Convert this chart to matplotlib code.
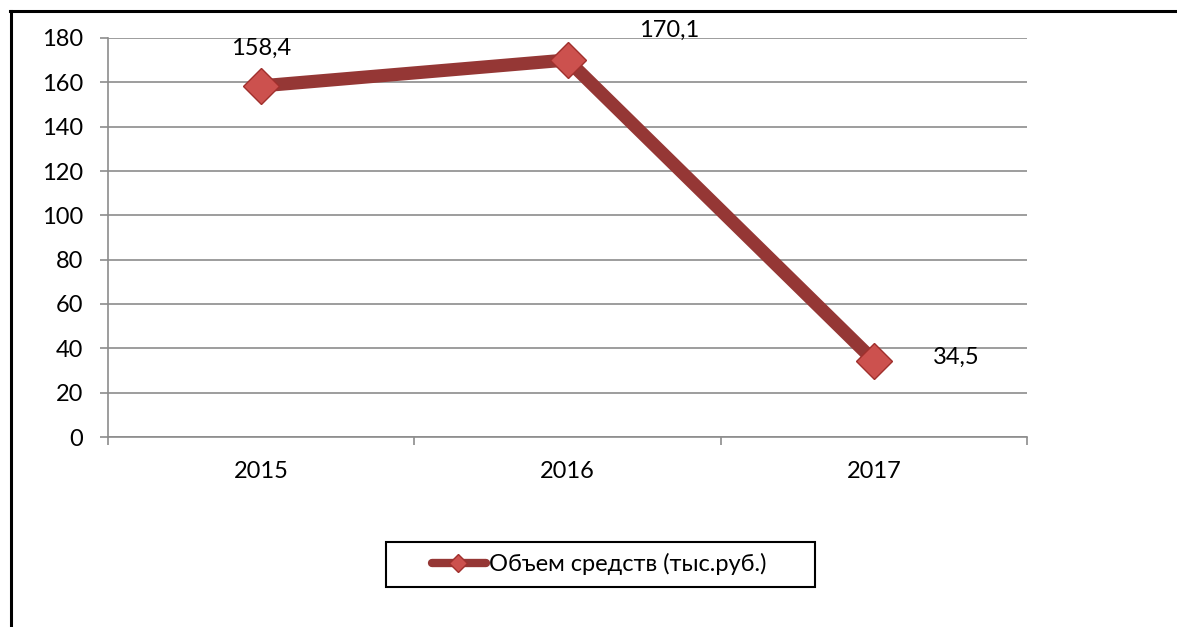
import matplotlib
matplotlib.use("Agg")
import matplotlib.pyplot as plt
from matplotlib.lines import Line2D
from matplotlib.patches import Rectangle

plt.rcParams["font.family"] = ["Lato", "DejaVu Sans"]

# --- data --------------------------------------------------------------------
years = ["2015", "2016", "2017"]
volume = [158.4, 170.1, 34.5]
value_labels = ["158,4", "170,1", "34,5"]
series_name = "Объем средств (тыс.руб.)"

# label offsets in pixels from the point
label_offsets = [(0, 38), (102, 30), (82, 3)]

LINE_C = "#953735"
MARK_C = "#CC514E"
MARK_EDGE = "#A0302D"
GRID_C = "#8C8C8C"
FS = 17

W, H = 1177, 627
fig = plt.figure(figsize=(W / 100, H / 100), dpi=100)
ax = fig.add_axes([108 / W, 1 - 437 / H, (1027 - 108) / W, (437 - 38) / H])

x = range(len(years))
ax.plot(x, volume, "-", color=LINE_C, lw=9.5, solid_capstyle="butt", zorder=3)
ax.plot(x, volume, "D", ms=18, mfc=MARK_C, mec=MARK_EDGE, mew=1.0, zorder=4)

for i, (v, lab) in enumerate(zip(volume, value_labels)):
    ax.annotate(lab, (i, v), xytext=label_offsets[i], textcoords="offset pixels",
                ha="center", va="center", fontsize=FS, color="black", zorder=5)

ax.set_xlim(-0.5, len(years) - 0.5)
ax.set_ylim(0, 180)
ax.set_yticks(range(0, 181, 20))
ax.set_xticks(x)
ax.set_xticklabels(years)
ax.set_xticks([-0.5, 0.5, 1.5, 2.5], minor=True)

ax.yaxis.grid(True, color=GRID_C, lw=1.2)
ax.set_axisbelow(True)
for s in ["top", "right"]:
    ax.spines[s].set_visible(False)
for s in ["left", "bottom"]:
    ax.spines[s].set_color(GRID_C)
    ax.spines[s].set_linewidth(1.2)

ax.tick_params(axis="y", length=6, width=1.2, color=GRID_C, labelsize=FS, pad=12)
ax.tick_params(axis="x", which="major", length=0, labelsize=FS, pad=17)
ax.tick_params(axis="x", which="minor", length=6, width=1.2, color=GRID_C)

# legend, drawn by hand so the box keeps the wide Excel padding
fx = lambda px: px / W
fy = lambda py: 1 - py / H
fig.add_artist(Rectangle((fx(386), fy(587)), fx(815) - fx(386), fy(542) - fy(587),
                         transform=fig.transFigure, fill=False, ec="black", lw=1.5))
fig.add_artist(Line2D([fx(432), fx(486)], [fy(563), fy(563)], color=LINE_C, lw=6,
                      solid_capstyle="round", transform=fig.transFigure))
fig.add_artist(Line2D([fx(458)], [fy(563)], marker="D", ms=9, mfc=MARK_C, mec=MARK_EDGE,
                      transform=fig.transFigure))
fig.text(fx(489), fy(564), series_name, fontsize=FS, ha="left", va="center")

# outer frame (top and left only, as in the picture)
fig.add_artist(Line2D([fx(10), 1], [fy(10.5), fy(10.5)], color="black", lw=2.2,
                      transform=fig.transFigure))
fig.add_artist(Line2D([fx(10.5), fx(10.5)], [0, fy(10.5)], color="black", lw=2.2,
                      transform=fig.transFigure))

fig.savefig("out.png", dpi=100)
